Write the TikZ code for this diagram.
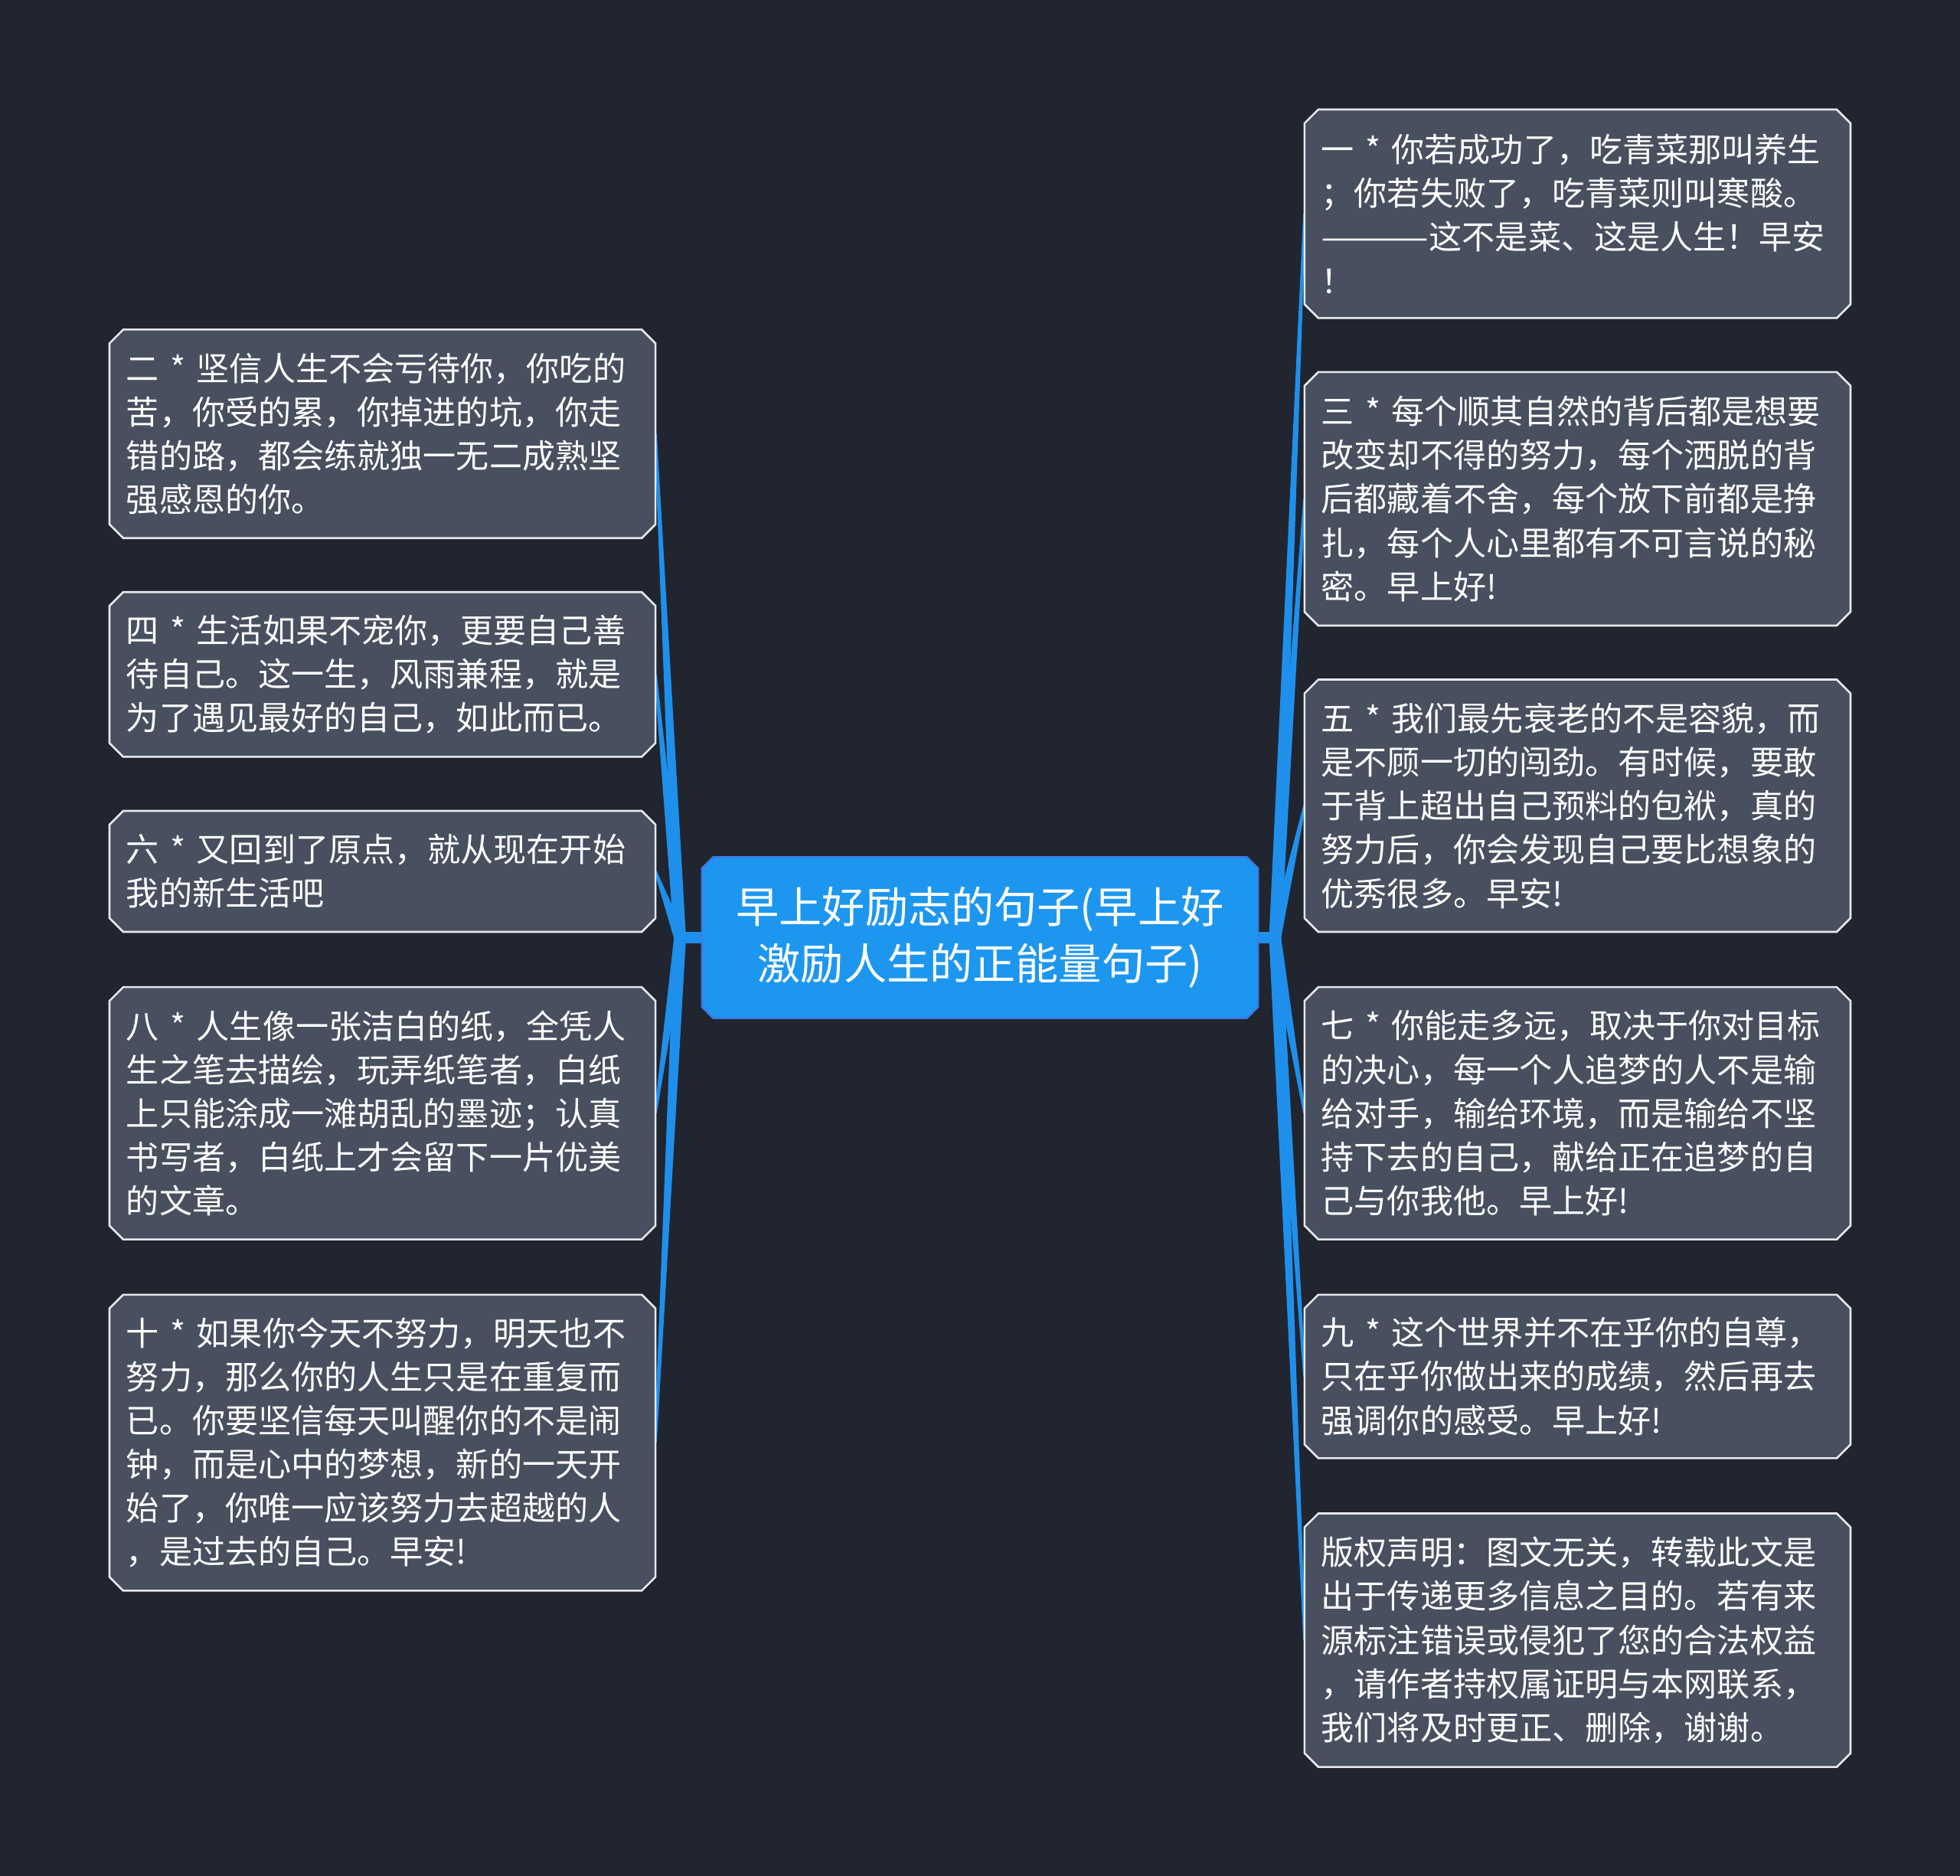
\documentclass[tikz,border=0pt]{standalone}
\usepackage{fontspec}
\setmainfont{Noto Sans CJK SC}
\usetikzlibrary{calc,backgrounds}
\definecolor{bgc}{HTML}{21252F}
\definecolor{boxc}{HTML}{484F5F}
\definecolor{edgec}{HTML}{E6E8EC}
\definecolor{rootc}{HTML}{1D96EF}
\definecolor{rootedge}{HTML}{3A7CE8}
\definecolor{linkc}{HTML}{1E90EC}
\newcommand\chbox[3]{%
\path[#3] ([xshift=#2]#1.north west) -- ([xshift=-#2]#1.north east) -- ([yshift=-#2]#1.north east) -- ([yshift=#2]#1.south east) -- ([xshift=-#2]#1.south east) -- ([xshift=#2]#1.south west) -- ([yshift=#2]#1.south west) -- ([yshift=-#2]#1.north west) -- cycle;}
\newcommand\conn[2]{%
\fill[linkc] ($(#1)!2.4pt!90:(#2)$) -- ($(#2)!0.5pt!-90:(#1)$) -- ($(#2)!0.5pt!90:(#1)$) -- ($(#1)!2.4pt!-90:(#2)$) -- cycle;}
\begin{document}
\begin{tikzpicture}[x=0.5pt,y=-0.5pt,
  leaf/.style={rectangle, inner xsep=6.5pt, inner ysep=0pt, text width=205pt, align=left,
    minimum width=218pt, text=white, font=\fontsize{13.2pt}{17.5pt}\selectfont},
  root/.style={rectangle, inner sep=0pt, align=center, minimum width=222pt, minimum height=64pt,
    text=white, font=\fontsize{17.2pt}{22.5pt}\selectfont},
  boxfill/.style={fill=boxc, draw=edgec, line width=0.8pt},
  rootfill/.style={fill=rootc, draw=rootedge, line width=0.8pt}]
\useasboundingbox (0,0) rectangle (1568,1500.6);

\node[root] (root) at (784,750) {早上好励志的句子(早上好\\激励人生的正能量句子)};

\node[leaf, minimum height=83pt] (n1) at (1262,171) {一 * 你若成功了，吃青菜那叫养生\\；你若失败了，吃青菜则叫寒酸。\\\scalebox{1.33}[1]{———}这不是菜、这是人生！早安\\！};
\node[leaf, minimum height=101pt] (n3) at (1262,399) {三 * 每个顺其自然的背后都是想要\\改变却不得的努力，每个洒脱的背\\后都藏着不舍，每个放下前都是挣\\扎，每个人心里都有不可言说的秘\\密。早上好!};
\node[leaf, minimum height=100.5pt] (n5) at (1262,644.5) {五 * 我们最先衰老的不是容貌，而\\是不顾一切的闯劲。有时候，要敢\\于背上超出自己预料的包袱，真的\\努力后，你会发现自己要比想象的\\优秀很多。早安!};
\node[leaf, minimum height=100.5pt] (n7) at (1262,890.5) {七 * 你能走多远，取决于你对目标\\的决心，每一个人追梦的人不是输\\给对手，输给环境，而是输给不坚\\持下去的自己，献给正在追梦的自\\己与你我他。早上好!};
\node[leaf, minimum height=65pt] (n9) at (1262,1101) {九 * 这个世界并不在乎你的自尊，\\只在乎你做出来的成绩，然后再去\\强调你的感受。早上好!};
\node[leaf, minimum height=101pt] (nc) at (1262,1312) {版权声明：图文无关，转载此文是\\出于传递更多信息之目的。若有来\\源标注错误或侵犯了您的合法权益\\，请作者持权属证明与本网联系，\\我们将及时更正、删除，谢谢。};

\node[leaf, minimum height=83pt] (n2) at (306,347) {二 * 坚信人生不会亏待你，你吃的\\苦，你受的累，你掉进的坑，你走\\错的路，都会练就独一无二成熟坚\\强感恩的你。};
\node[leaf, minimum height=65.5pt] (n4) at (306,539.5) {四 * 生活如果不宠你，更要自己善\\待自己。这一生，风雨兼程，就是\\为了遇见最好的自己，如此而已。};
\node[leaf, minimum height=48pt] (n6) at (306,697) {六 * 又回到了原点，就从现在开始\\我的新生活吧};
\node[leaf, minimum height=100.5pt] (n8) at (306,890.5) {八 * 人生像一张洁白的纸，全凭人\\生之笔去描绘，玩弄纸笔者，白纸\\上只能涂成一滩胡乱的墨迹；认真\\书写者，白纸上才会留下一片优美\\的文章。};
\node[leaf, minimum height=118pt] (n10) at (306,1154) {十 * 如果你今天不努力，明天也不\\努力，那么你的人生只是在重复而\\已。你要坚信每天叫醒你的不是闹\\钟，而是心中的梦想，新的一天开\\始了，你唯一应该努力去超越的人\\，是过去的自己。早安!};

\coordinate (JL) at (544,750);
\coordinate (JR) at (1020,750);

\begin{scope}[on background layer]
\fill[bgc] (0,0) rectangle (1568,1500.6);
\draw[linkc, line width=4.8pt] (root.west) -- (JL);
\draw[linkc, line width=4.8pt] (root.east) -- (JR);
\foreach \n in {n1,n3,n5,n7,n9,nc} {\conn{JR}{\n.west}}
\foreach \n in {n2,n4,n6,n8,n10} {\conn{JL}{\n.east}}
\foreach \n in {n1,n3,n5,n7,n9,nc,n2,n4,n6,n8,n10} {\chbox{\n}{5.5pt}{boxfill}}
\chbox{root}{4.5pt}{rootfill}
\end{scope}
\end{tikzpicture}
\end{document}
